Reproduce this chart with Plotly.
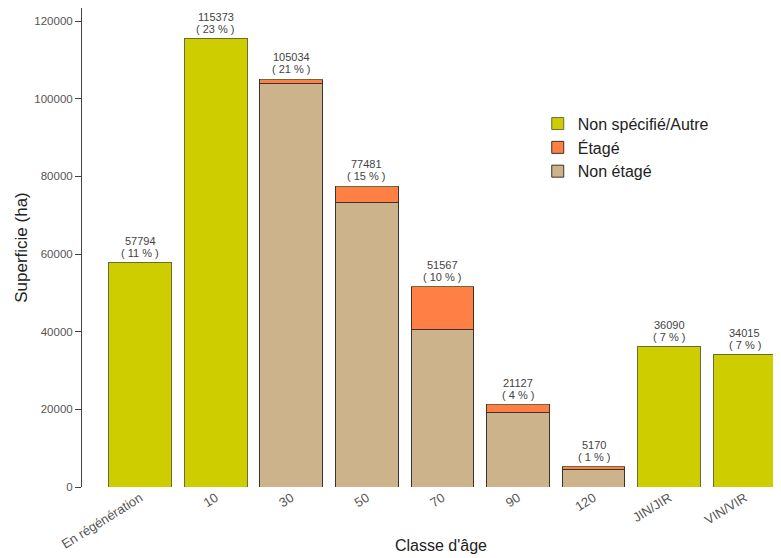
import plotly.graph_objects as go

categories = ["En régénération", "10", "30", "50", "70", "90", "120", "JIN/JIR", "VIN/VIR"]
non_specifie = [57794, 115373, 0, 0, 0, 0, 0, 36090, 34015]
etage = [0, 0, 1250, 4171, 10882, 1892, 612, 0, 0]
non_etage = [0, 0, 103784, 73310, 40685, 19235, 4558, 0, 0]
totals = [57794, 115373, 105034, 77481, 51567, 21127, 5170, 36090, 34015]
pct_labels = ["11", "23", "21", "15", "10", "4", "1", "7", "7"]
y_ticks = [0, 20000, 40000, 60000, 80000, 100000, 120000]

c_yellow = "#CDCD00"
c_orange = "#FF7F45"
c_tan = "#CDB38B"
outline = dict(color="#3a3330", width=1)
lab_font = dict(family="Liberation Sans, Arial", size=11, color="#444444")

fig = go.Figure()
fig.add_trace(go.Bar(x=categories, y=non_etage, name="Non étagé",
                     marker=dict(color=c_tan, line=outline), legendrank=3))
fig.add_trace(go.Bar(x=categories, y=etage, name="Étagé",
                     marker=dict(color=c_orange, line=outline), legendrank=2))
fig.add_trace(go.Bar(x=categories, y=non_specifie, name="Non spécifié/Autre",
                     marker=dict(color=c_yellow, line=dict(color="#6b6b3a", width=1)), legendrank=1))

for i, (tot, p) in enumerate(zip(totals, pct_labels)):
    fig.add_annotation(x=i, y=tot, xref="x", yref="y", text=f"( {p} % )", showarrow=False,
                       yanchor="bottom", yshift=2, font=lab_font)
    fig.add_annotation(x=i, y=tot, xref="x", yref="y", text=f"{tot}", showarrow=False,
                       yanchor="bottom", yshift=14, font=lab_font)

fig.add_annotation(text="Classe d'âge", xref="paper", yref="paper",
                   x=0.514, y=-0.123, xanchor="center", yanchor="middle",
                   showarrow=False, font=dict(family="Liberation Sans, Arial", size=16, color="#222222"))

fig.update_layout(
    barmode="stack",
    bargap=0.17,
    width=781, height=558,
    margin=dict(l=74, r=8, t=0, b=79),
    paper_bgcolor="white",
    plot_bgcolor="white",
    font=dict(family="Liberation Sans, Arial", color="#333333"),
    legend=dict(x=0.652, y=0.794, xanchor="left", yanchor="top",
                traceorder="normal", font=dict(size=16, color="#222222"),
                bgcolor="rgba(0,0,0,0)", itemwidth=30, tracegroupgap=0),
    showlegend=True,
)
fig.update_xaxes(
    type="category",
    range=[-0.77, 8.48],
    tickangle=-32,
    tickfont=dict(size=13, color="#555555"),
    showgrid=False, showline=False, ticks="", zeroline=False,
    automargin=False,
)
fig.update_yaxes(
    range=[0, 123348],
    tickvals=y_ticks,
    ticktext=[str(v) for v in y_ticks],
    tickfont=dict(size=11.5, color="#555555"),
    title=dict(text="Superficie (ha)", font=dict(size=17, color="#222222"), standoff=2),
    showline=True, linecolor="#444444", linewidth=1,
    ticks="outside", ticklen=6, tickcolor="#444444",
    showgrid=True, gridcolor="rgba(255,255,255,0.35)", gridwidth=1,
    layer="above traces", zeroline=False,
    automargin=False,
)

fig.write_html("out.html")
